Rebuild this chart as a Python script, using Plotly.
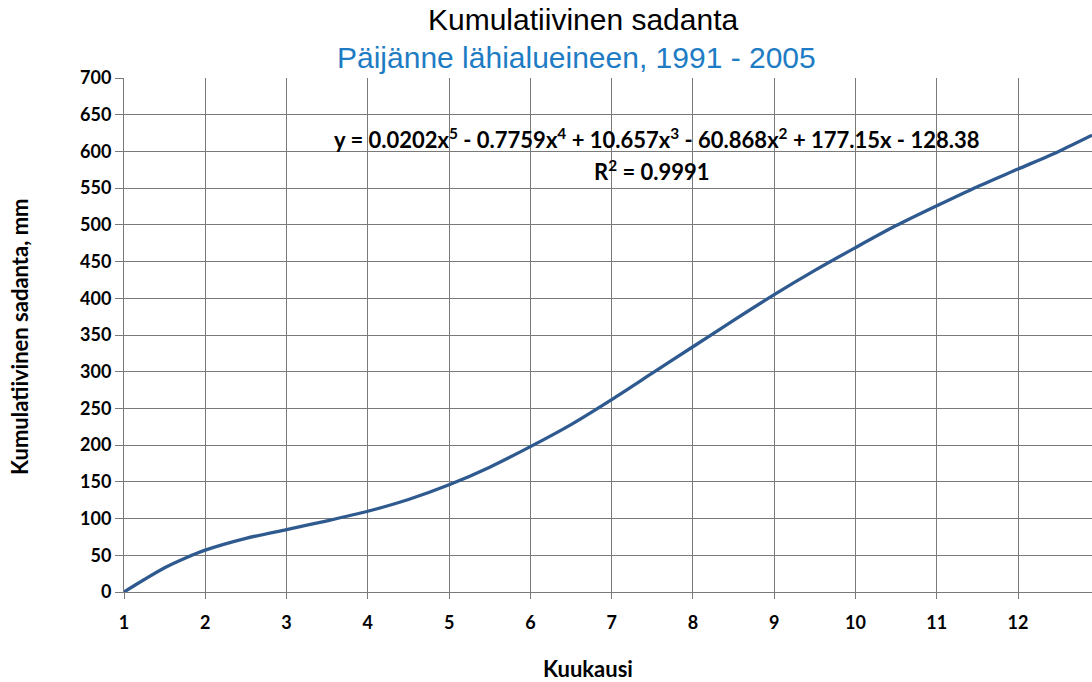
import plotly.graph_objects as go

# cumulative precipitation
kuukausi = [1, 1.25, 1.5, 1.75, 2, 2.5, 3, 3.5, 4, 4.5, 5, 5.5, 6, 6.5, 7, 7.5,
            8, 8.5, 9, 9.5, 10, 10.5, 11, 11.5, 12, 12.5, 12.91]
sadanta = [0, 17, 33, 46, 57, 73, 85, 97, 110, 126, 146, 170, 198, 228, 262, 298,
           334, 370, 405, 438, 469, 499, 526, 552, 576, 600, 622]

x_ticks = list(range(1, 13))
y_ticks = list(range(0, 701, 50))

title = "Kumulatiivinen sadanta"
subtitle = "Päijänne lähialueineen, 1991 - 2005"
equation = "y = 0.0202x<sup>5</sup> - 0.7759x<sup>4</sup> + 10.657x<sup>3</sup> - 60.868x<sup>2</sup> + 177.15x - 128.38"
r2 = "R<sup>2</sup> = 0.9991"

# plot area in pixels
L, T, B = 124, 78, 592
W, H = 1092, 682
plot_w = W - L
plot_h = B - T


def px(x, y):
    return (x - L) / plot_w, (B - y) / plot_h


fig = go.Figure(go.Scatter(
    x=kuukausi, y=sadanta, mode="lines",
    line=dict(color="#2F5A8F", width=3.3, shape="spline", smoothing=0.8),
    hoverinfo="skip"))

grid = "#7a7a7a"
tick_font = dict(family="Lato", size=18, color="black", weight="bold")

fig.update_layout(
    width=W, height=H,
    margin=dict(l=L, r=0, t=T, b=H - B),
    paper_bgcolor="white", plot_bgcolor="white",
    showlegend=False,
    xaxis=dict(range=[1, 12.91], tickvals=x_ticks, showgrid=True,
               gridcolor=grid, gridwidth=1, showline=True, linecolor=grid,
               ticks="outside", ticklen=6, tickcolor=grid, zeroline=False,
               tickfont=tick_font, ticklabelstandoff=8),
    yaxis=dict(range=[0, 700], tickvals=y_ticks, showgrid=True,
               gridcolor=grid, gridwidth=1, showline=True, linecolor=grid,
               ticks="outside", ticklen=8, tickcolor=grid, zeroline=False,
               tickfont=tick_font),
)

texts = [
    (title, 583, 20, 0, dict(family="Liberation Sans", size=30, color="black")),
    (subtitle, 576, 58, 0, dict(family="Liberation Sans", size=30, color="#1E7CC4")),
    ("<b>" + equation + "</b>", 656, 138, 0, dict(family="Lato", size=22, color="black")),
    ("<b>" + r2 + "</b>", 652, 170, 0, dict(family="Lato", size=22, color="black")),
    ("<b>Kuukausi</b>", 588, 668, 0, dict(family="Lato", size=22, color="black")),
    ("<b>Kumulatiivinen sadanta, mm</b>", 19, 337, -90, dict(family="Lato", size=22, color="black")),
]
for text, x, y, ang, font in texts:
    ax, ay = px(x, y)
    fig.add_annotation(text=text, x=ax, y=ay, xref="paper", yref="paper",
                       xanchor="center", yanchor="middle", showarrow=False,
                       textangle=ang, font=font)

fig.write_html("out.html", config={"displayModeBar": False},
               post_script="document.body.style.margin='0';")
